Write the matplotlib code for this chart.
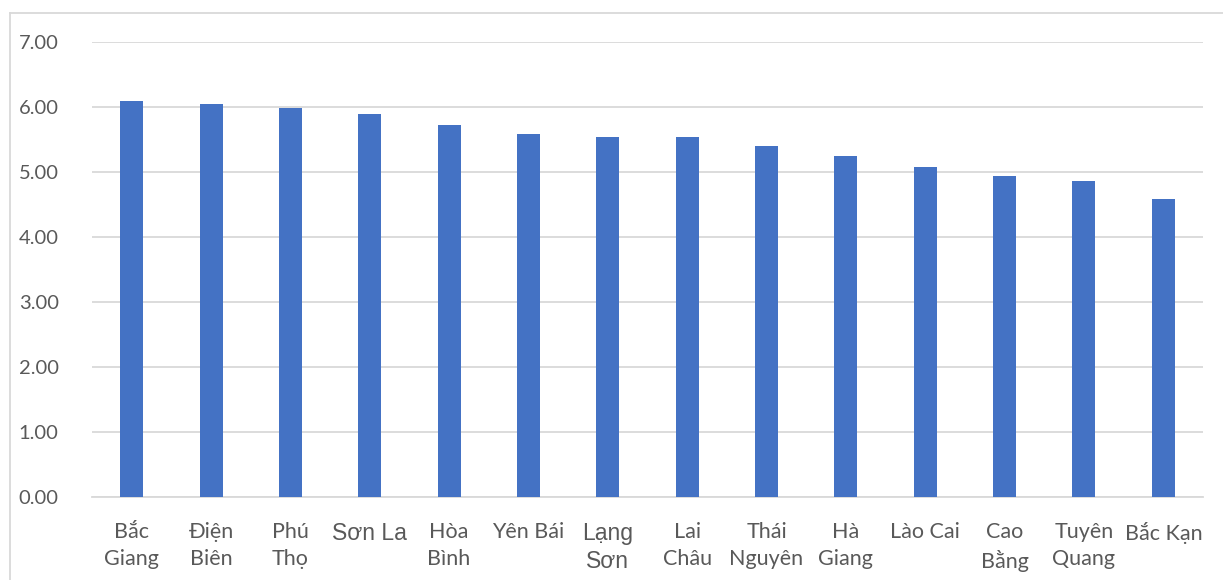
import matplotlib
matplotlib.use("Agg")
import matplotlib.pyplot as plt
from matplotlib.lines import Line2D

# -------- Data --------
provinces = ["Bắc\nGiang", "Điện\nBiên", "Phú\nThọ", "Sơn La", "Hòa\nBình", "Yên Bái",
             "Lạng\nSơn", "Lai\nChâu", "Thái\nNguyên", "Hà\nGiang", "Lào Cai",
             "Cao\nBằng", "Tuyên\nQuang", "Bắc Kạn"]
values = [6.10, 6.05, 5.98, 5.89, 5.72, 5.59, 5.54, 5.54, 5.40, 5.24, 5.08, 4.94, 4.86, 4.58]
yticks = [0, 1, 2, 3, 4, 5, 6, 7]

# labels that were rendered in a different (Arial-like) font in the source
arial_labels = ["Sơn La", "Lạng\nSơn"]

bar_color = "#4472C4"
text_color = "#595959"
grid_color = "#d9d9d9"

W, H = 1223, 580
fig = plt.figure(figsize=(W / 100, H / 100), dpi=100)
ax = fig.add_axes([92 / W, (H - 497) / H, (1203 - 92) / W, (497 - 42) / H])

x = range(len(provinces))
ax.bar(x, values, width=0.29, color=bar_color, zorder=3)

ax.set_xlim(-0.5, len(provinces) - 0.5)
ax.set_ylim(0, 7)
ax.set_yticks(yticks)
ax.set_yticklabels([f"{v:.2f}" for v in yticks])
ax.yaxis.grid(True, color=grid_color, linewidth=1.3, zorder=0)
ax.set_axisbelow(True)

for s in ["top", "right", "left"]:
    ax.spines[s].set_visible(False)
ax.spines["bottom"].set_color(grid_color)
ax.spines["bottom"].set_linewidth(1.3)

ax.tick_params(axis="y", length=0, pad=24, labelsize=14.5, labelcolor=text_color)
ax.tick_params(axis="x", length=0, pad=18, labelsize=15.5, labelcolor=text_color)
for lbl in ax.get_yticklabels():
    lbl.set_fontfamily("Lato")

ax.set_xticks(list(x))
ax.set_xticklabels(provinces, linespacing=1.42, va="top")
for lbl in ax.get_xticklabels():
    if lbl.get_text() in arial_labels:
        lbl.set_fontfamily("Liberation Sans")
        lbl.set_fontsize(16.5)
        lbl.set_linespacing(1.25)
    else:
        lbl.set_fontfamily("Lato")

# chart border (only top and left edges visible in the crop)
fig.add_artist(Line2D([10 / W, 10 / W], [0, (H - 13) / H], color="#d9d9d9", lw=1.3))
fig.add_artist(Line2D([10 / W, 1], [(H - 13) / H, (H - 13) / H], color="#d9d9d9", lw=1.3))

fig.savefig("out.png", dpi=100)
